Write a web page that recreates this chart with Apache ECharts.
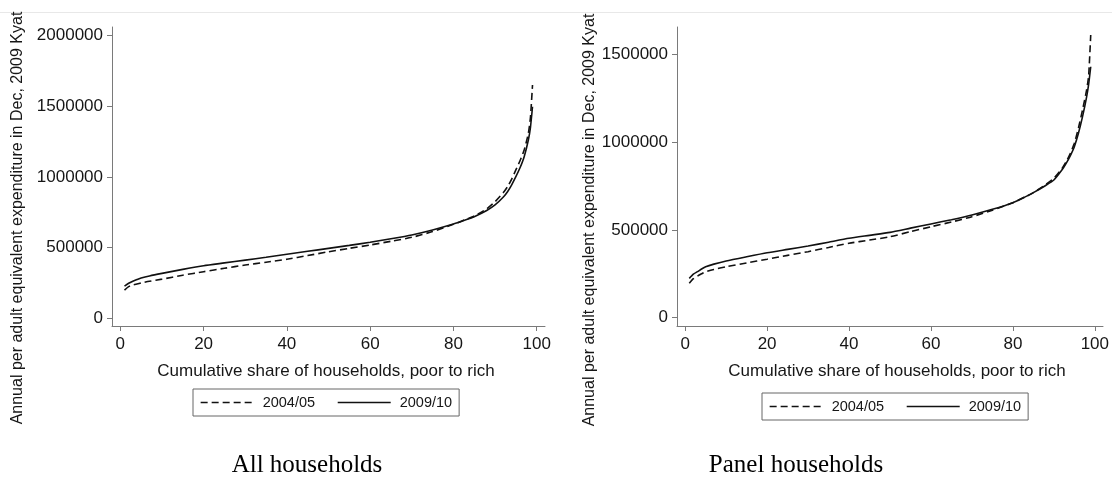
<!DOCTYPE html>
<html>
<head>
<meta charset="utf-8">
<script src="https://cdn.jsdelivr.net/npm/echarts@6/dist/echarts.min.js"></script>
<style>
html,body{margin:0;padding:0;background:#fff;}
#chart{width:1112px;height:477px;}
</style>
</head>
<body>
<div id="chart"></div>
<script>
// Cumulative share of households (percentile)
const shares = [1,2,3,4,5,7,10,15,20,25,30,35,40,45,50,55,60,65,70,75,80,83,85,88,90,92,93,94,95,96,97,98,98.5,99];

// All households
const all2004 = [200000,224000,236000,243000,250000,262000,277000,305000,330000,354000,377000,397000,418000,444000,471000,495000,519000,545000,573000,614000,665000,700000,724000,775000,825000,890000,931000,985000,1050000,1115000,1191000,1309000,1420000,1651000];
const all2009 = [228000,248000,262000,274000,285000,300000,318000,346000,372000,392000,412000,432000,453000,474000,495000,516000,538000,563000,590000,625000,667000,697000,719000,763000,802000,858000,896000,945000,1002000,1065000,1144000,1262000,1350000,1497000];

// Panel households
const panel2004 = [196000,222000,237000,250000,262000,275000,290000,312000,333000,355000,376000,400000,424000,442000,461000,490000,518000,545000,575000,612000,655000,688000,712000,758000,794000,850000,888000,935000,993000,1080000,1183000,1297000,1380000,1610000];
const panel2009 = [224000,248000,262000,277000,290000,305000,323000,347000,370000,389000,408000,430000,452000,469000,486000,510000,534000,558000,585000,617000,655000,688000,712000,753000,784000,842000,879000,922000,974000,1050000,1145000,1258000,1330000,1429000];

// Tick labels
const xTicks = [0,20,40,60,80,100];
const yTicksAll = [0,500000,1000000,1500000,2000000];
const yTicksPanel = [0,500000,1000000,1500000];

const seriesNames = ['2004/05','2009/10'];
const xTitle = 'Cumulative share of households, poor to rich';
const yTitle = 'Annual per adult equivalent expenditure in Dec, 2009 Kyat';
const captions = ['All households','Panel households'];

const FONT = '"Liberation Sans", Arial, sans-serif';
const AXIS_COLOR = '#7a7a7a';
const LABEL_COLOR = '#161616';

function pairs(xs, ys){ return xs.map((x,i)=>[x, ys[i]]); }

function xAxisDef(gi){
  return {
    type:'value', gridIndex:gi, min:-2, max:102,
    axisLine:{show:true, onZero:false, lineStyle:{color:AXIS_COLOR, width:1}},
    axisTick:{show:true, length:5, lineStyle:{color:AXIS_COLOR}, customValues:xTicks},
    axisLabel:{color:LABEL_COLOR, fontSize:17, fontFamily:FONT, margin:10, customValues:xTicks, formatter:v=>String(v), hideOverlap:false},
    splitLine:{show:false}
  };
}
function yAxisDef(gi, min, max, ticks){
  return {
    type:'value', gridIndex:gi, min:min, max:max,
    axisLine:{show:true, onZero:false, lineStyle:{color:AXIS_COLOR, width:1}},
    axisTick:{show:true, length:5, lineStyle:{color:AXIS_COLOR}, customValues:ticks},
    axisLabel:{color:LABEL_COLOR, fontSize:17, fontFamily:FONT, margin:9, customValues:ticks, formatter:v=>String(v), hideOverlap:false},
    splitLine:{show:false}
  };
}
function lineSeries(name, gi, data, dashed){
  return {
    name:name, type:'line', xAxisIndex:gi, yAxisIndex:gi,
    data:data, symbol:'none', smooth:0.2, silent:true,
    lineStyle:{color:'#111', width:1.6, type: dashed ? [7,4] : 'solid'},
    itemStyle:{color:'#111'}
  };
}
function legendDef(left, top){
  return {
    left:left, top:top, orient:'horizontal',
    data:seriesNames,
    itemWidth:53, itemHeight:14, itemGap:22,
    padding:[6,7,6,7],
    borderColor:'#666', borderWidth:1,
    selectedMode:false,
    itemStyle:{color:'rgba(0,0,0,0)', borderWidth:0, opacity:0},
    lineStyle:{color:'#111', width:1.3},
    textStyle:{fontFamily:FONT, fontSize:14.5, color:LABEL_COLOR, padding:[0,0,0,4]}
  };
}

const chart = echarts.init(document.getElementById('chart'), null, {renderer:'canvas'});
chart.setOption({
  backgroundColor:'#ffffff',
  animation:false,
  grid:[
    {left:112, top:27, width:433, height:299, containLabel:false},
    {left:677, top:27, width:433, height:299, containLabel:false}
  ],
  xAxis:[xAxisDef(0), xAxisDef(1)],
  yAxis:[yAxisDef(0, -54500, 2061600, yTicksAll), yAxisDef(1, -47300, 1655500, yTicksPanel)],
  legend:[legendDef(193, 389), legendDef(762, 393)],
  series:[
    lineSeries(seriesNames[0], 0, pairs(shares, all2004), true),
    lineSeries(seriesNames[1], 0, pairs(shares, all2009), false),
    lineSeries(seriesNames[0], 1, pairs(shares, panel2004), true),
    lineSeries(seriesNames[1], 1, pairs(shares, panel2009), false)
  ],
  graphic:[
    {type:'line', shape:{x1:0,y1:12.5,x2:1112,y2:12.5}, style:{stroke:'#e8e8e8', lineWidth:1}, silent:true},
    {type:'text', x:18, y:218, rotation:Math.PI/2, style:{text:yTitle, font:'16px '+FONT, fill:LABEL_COLOR, textAlign:'center', textVerticalAlign:'middle'}},
    {type:'text', x:590, y:220, rotation:Math.PI/2, style:{text:yTitle, font:'16px '+FONT, fill:LABEL_COLOR, textAlign:'center', textVerticalAlign:'middle'}},
    {type:'text', x:326, y:371, style:{text:xTitle, font:'17px '+FONT, fill:LABEL_COLOR, textAlign:'center', textVerticalAlign:'middle'}},
    {type:'text', x:897, y:371, style:{text:xTitle, font:'17px '+FONT, fill:LABEL_COLOR, textAlign:'center', textVerticalAlign:'middle'}},
    {type:'text', x:307, y:465, style:{text:captions[0], font:'25px "Liberation Serif", "Times New Roman", serif', fill:'#000', textAlign:'center', textVerticalAlign:'middle'}},
    {type:'text', x:796, y:465, style:{text:captions[1], font:'25px "Liberation Serif", "Times New Roman", serif', fill:'#000', textAlign:'center', textVerticalAlign:'middle'}}
  ]
});
</script>
</body>
</html>
